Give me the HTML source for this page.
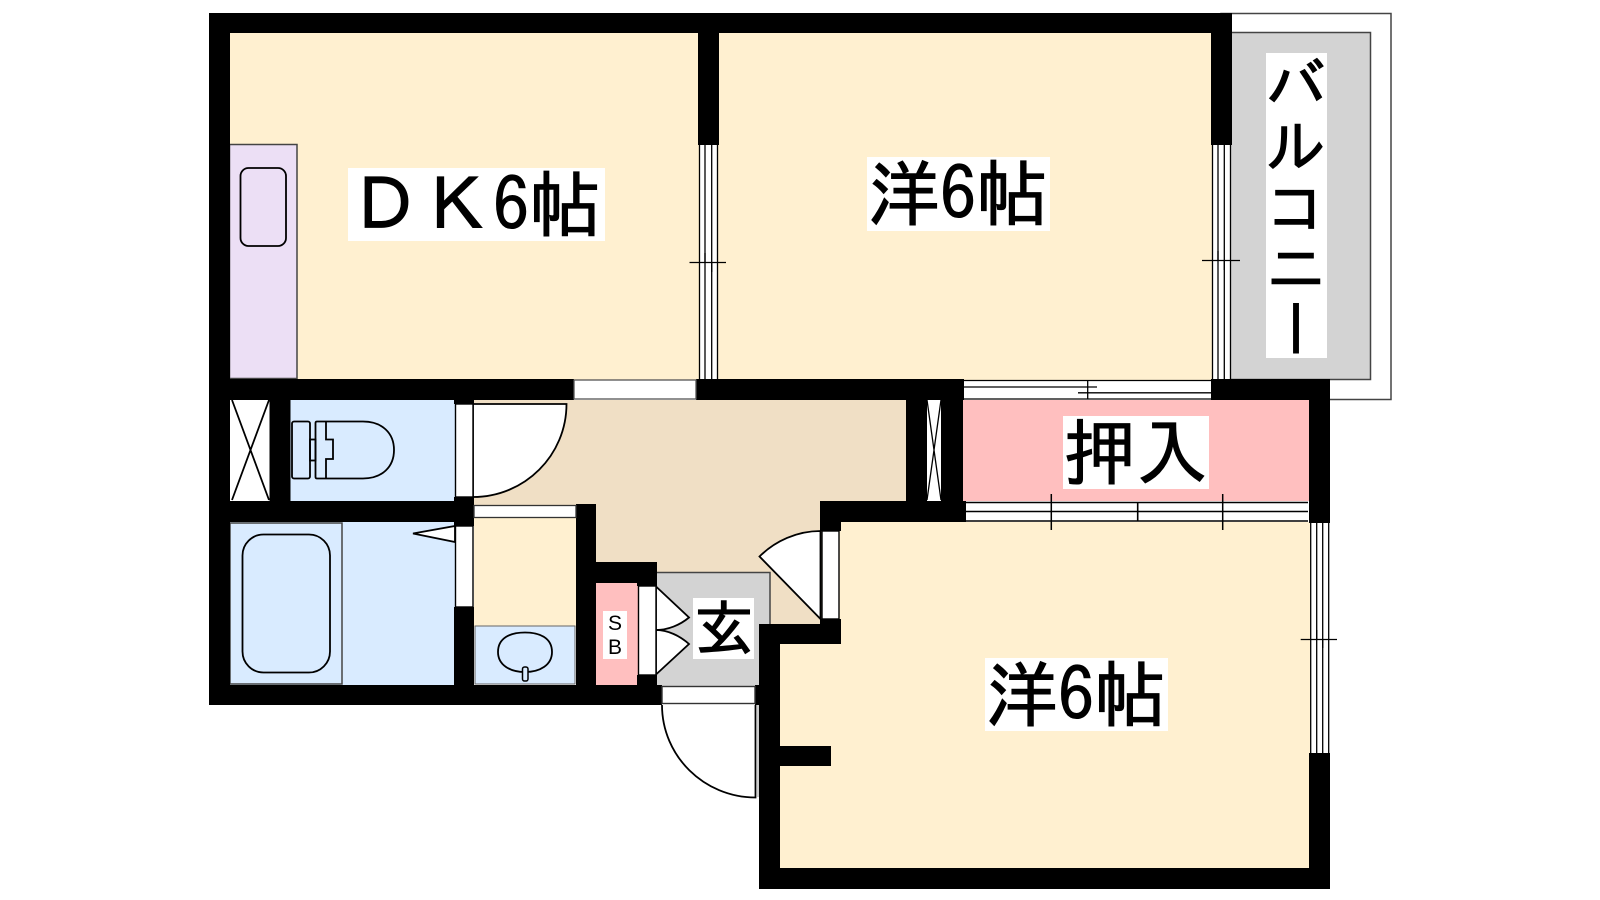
<!DOCTYPE html>
<html lang="ja"><head><meta charset="utf-8"><title>間取り図</title>
<style>
html,body{margin:0;padding:0;background:#fff;width:1600px;height:900px;overflow:hidden}
svg{display:block}
.t{font-family:"IPAGothic","Liberation Sans","Noto Sans CJK JP",sans-serif;fill:#000;stroke:#000;stroke-width:1.1}
.l{stroke:#000;stroke-width:1.8;fill:none}
.g{stroke:#444;stroke-width:1.5;fill:none}
.d{stroke:#000;stroke-width:1.8;fill:#fff}
.n{stroke:#000;stroke-width:1.3;fill:none}
</style></head><body>
<svg width="1600" height="900" viewBox="0 0 1600 900" xmlns="http://www.w3.org/2000/svg">
<!-- balcony -->
<rect x="1221" y="13.500" width="170" height="386" fill="#fff" stroke="#444" stroke-width="1.5"/>
<rect x="1230" y="32.500" width="140.500" height="347" fill="#d3d3d3" stroke="#444" stroke-width="1.5"/>
<!-- floors -->
<rect x="229" y="32" width="470" height="348" fill="#fff0d0"/>
<rect x="718" y="32" width="494" height="348" fill="#fff0d0"/>
<polygon points="780,522 1310,522 1310,869 780,869" fill="#fff0d0"/>
<polygon points="473,400 907,400 907,502 821,502 821,625 770,625 770,572 596,572 596,505 473,505" fill="#f0dfc5"/>
<rect x="474" y="505" width="103" height="122" fill="#fff0d0"/>
<rect x="230" y="400" width="40" height="101" fill="#fff"/>
<rect x="290" y="400" width="165" height="102" fill="#d9ebff"/>
<rect x="230" y="522" width="225" height="163" fill="#d9ebff"/>
<rect x="475" y="626" width="100" height="58" fill="#d9ebff" stroke="#666" stroke-width="1"/>
<rect x="596" y="583" width="42" height="103" fill="#ffbfbf"/>
<polygon points="657,572 770,572 770,625 759,625 759,686 657,686" fill="#d3d3d3"/>
<path d="M657,572.500H770V625" class="g"/>
<rect x="962" y="400" width="348" height="101" fill="#ffbfbf"/>
<!-- kitchen -->
<rect x="229.500" y="144.500" width="67.500" height="234" fill="#ecdff5" stroke="#444" stroke-width="1.5"/>
<rect x="240.500" y="168" width="45.500" height="78" rx="8" class="l"/>
<!-- closets -->
<g>
<rect x="230.500" y="400" width="39" height="101" fill="#fff"/>
<path d="M232,400L269,500M269,400L232,500" class="l"/>
<rect x="926" y="400" width="15" height="101" fill="#fff"/>
<path d="M927,400L941,500M941,400L927,500" class="n"/>
</g>
<!-- bath -->
<rect x="230" y="523" width="112" height="161" fill="none" stroke="#444" stroke-width="1.5"/>
<rect x="242.500" y="534.500" width="87.500" height="138" rx="21" class="l"/>
<!-- toilet -->
<rect x="292" y="421.500" width="18" height="57" rx="2" class="l"/>
<rect x="310" y="439.500" width="5.500" height="21" class="l"/>
<path d="M317,421.500H363C382,421.500 394,433 394,450C394,467 382,478.500 363,478.500H317Q315.500,478.500 315.500,477V423Q315.500,421.500 317,421.500Z" class="l"/>
<path d="M326,421.500V439.500H333V459H326V478.500" class="l"/>
<!-- sink -->
<path d="M498,652C498,638 510,632.500 525,632.500C540,632.500 552,638 552,652C552,665 540,672 525,672C510,672 498,665 498,652Z" class="l"/>
<rect x="522.500" y="667" width="5.500" height="14" rx="2" fill="#d9ebff" stroke="#000" stroke-width="1.5"/>
<!-- door swings -->
<path d="M473,404H566.500C566.500,455 525,497 473,497Z" class="d"/>
<polygon points="413,533.500 455,526 455,542" class="d"/>
<path d="M820.500,619L759.500,556.500C775,541 797,531 820.500,531Z" class="d"/>
<path d="M656,586.500L689,617.500C680,625 668,630 656,630Z" class="d"/>
<path d="M656,630C668,630 680,636 689,644L656,674.500Z" class="d"/>
<path d="M755.500,705V797.500C704,797.500 662,756 662,705" class="d"/>
<path d="M758,705V797" stroke="#999" stroke-width="1" fill="none"/>
<!-- walls -->
<g fill="#000">
<rect x="209" y="13" width="1023" height="20"/>
<rect x="209" y="13" width="21" height="692"/>
<rect x="698" y="13" width="21" height="132"/>
<rect x="1211" y="13" width="21" height="132"/>
<rect x="209" y="379" width="365" height="21"/>
<rect x="696" y="379" width="268" height="21"/>
<rect x="1211" y="379" width="119" height="21"/>
<rect x="269.500" y="379" width="21" height="143"/>
<rect x="209" y="501" width="265" height="21"/>
<rect x="454" y="379" width="20" height="25"/>
<rect x="454" y="497" width="20" height="29"/>
<rect x="454" y="607" width="20" height="78"/>
<rect x="576" y="504" width="20" height="201"/>
<rect x="576" y="562" width="81" height="21"/>
<rect x="637" y="562" width="20" height="24"/>
<rect x="637" y="675" width="20" height="30"/>
<rect x="209" y="685" width="453" height="20"/>
<rect x="755" y="685" width="25" height="20"/>
<rect x="906" y="379" width="21" height="143"/>
<rect x="941" y="379" width="22" height="143"/>
<rect x="820" y="501" width="146" height="21"/>
<rect x="820" y="501" width="21" height="30"/>
<rect x="820" y="619" width="21" height="25"/>
<rect x="759" y="624" width="82" height="20"/>
<rect x="759" y="624" width="21" height="265"/>
<rect x="780" y="746" width="51" height="20"/>
<rect x="759" y="868" width="571" height="21"/>
<rect x="1309" y="379" width="21" height="144"/>
<rect x="1309" y="753" width="21" height="136"/>
</g>
<!-- openings -->
<g>
<rect x="574" y="380" width="122" height="19" fill="#fff" stroke="#555" stroke-width="1.3"/>
<rect x="474" y="505.500" width="102" height="12" fill="#fff" stroke="#333" stroke-width="1.3"/>
<rect x="455.500" y="404" width="17.500" height="93" fill="#fff" stroke="#000" stroke-width="1.4"/>
<rect x="455.500" y="526" width="17.500" height="81" fill="#fff" stroke="#000" stroke-width="1.4"/>
<rect x="638.500" y="586" width="17.500" height="89" fill="#fff" stroke="#000" stroke-width="1.4"/>
<rect x="822" y="531" width="17" height="88" fill="#fff" stroke="#000" stroke-width="1.4"/>
<rect x="662" y="686.500" width="93" height="17" fill="#fff" stroke="#333" stroke-width="1.4"/>
</g>
<!-- sliding windows -->
<g>
<rect x="699" y="145" width="19" height="234" fill="#fff"/>
<path d="M699.500,145V379M705,145V379M711.700,145V379M717.500,145V379" class="n"/>
<path d="M689.500,262.500H726M705,253V262.500M711.700,262.500V272" class="n"/>
<rect x="1212" y="145" width="19" height="234" fill="#fff"/>
<path d="M1212.500,145V379M1218,145V379M1224.300,145V379M1230.500,145V379" class="n"/>
<path d="M1202,260.500H1240M1218,251V260.500M1224.300,260.500V270" class="n"/>
<rect x="964" y="380" width="247" height="19" fill="#fff"/>
<path d="M964,380.500H1211M964,399H1211M964,387H1097M1078,392.800H1211M1087.700,380V399" class="n"/>
<rect x="966" y="502" width="342" height="19" fill="#fff"/>
<path d="M966,502.500H1308M966,511.500H1308M966,521H1308M1137.700,502V521" class="n" style="stroke-width:1.6"/>
<path d="M1051.300,494V530M1222.700,494V530" class="n" style="stroke-width:1.5"/>
<rect x="1310" y="523" width="19" height="230" fill="#fff"/>
<path d="M1310.700,523V753M1316.700,523V753M1322.700,523V753M1328.700,523V753" class="n"/>
<path d="M1300.700,639.500H1337M1316.700,630V639.500M1322.700,639.500V648" class="n"/>
</g>
<!-- labels -->
<rect x="348" y="168" width="257" height="73" fill="#fff"/>
<text class="t" x="349" y="231" font-size="72">ＤＫ6帖</text>
<rect x="867" y="157" width="183" height="74" fill="#fff"/>
<text class="t" x="868" y="220" font-size="72">洋6帖</text>
<rect x="985" y="658" width="183" height="73" fill="#fff"/>
<text class="t" x="986" y="721" font-size="72">洋6帖</text>
<rect x="1063" y="416" width="146" height="73" fill="#fff"/>
<text class="t" x="1064" y="479" font-size="72">押入</text>
<rect x="693" y="598" width="61" height="61" fill="#fff"/>
<text class="t" x="694" y="650" font-size="60">玄</text>
<rect x="603" y="611" width="24" height="48" fill="#fff"/>
<text x="615" y="630" font-size="21" text-anchor="middle" font-family="'Liberation Sans',sans-serif">S</text>
<text x="615" y="654" font-size="21" text-anchor="middle" font-family="'Liberation Sans',sans-serif">B</text>
<rect x="1266" y="53" width="61" height="305" fill="#fff"/>
<text class="t" x="1296" y="54" font-size="60" style="writing-mode:vertical-rl;letter-spacing:1px">バルコニー</text>
</svg>
</body></html>
